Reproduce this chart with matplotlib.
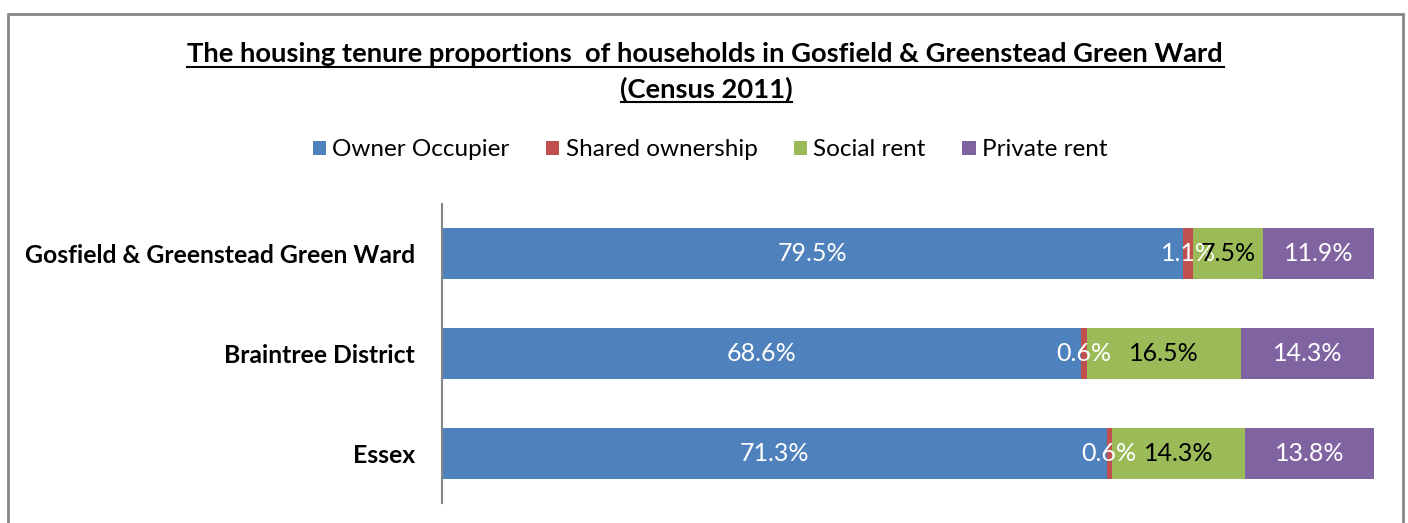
import matplotlib
matplotlib.use("Agg")
import matplotlib.pyplot as plt
from matplotlib.patches import Rectangle, Patch

plt.rcParams['font.family'] = ['Lato', 'DejaVu Sans']

categories = ["Gosfield & Greenstead Green Ward", "Braintree District", "Essex"]
series_names = ["Owner Occupier", "Shared ownership", "Social rent", "Private rent"]
owner = [79.5, 68.6, 71.3]
shared = [1.1, 0.6, 0.6]
social = [7.5, 16.5, 14.3]
private = [11.9, 14.3, 13.8]
series_values = [owner, shared, social, private]
colors = ["#4F81BD", "#C0504D", "#9BBB59", "#8064A2"]
label_colors = ["white", "white", "black", "white"]

W, H = 1408, 523
fig = plt.figure(figsize=(W / 100, H / 100), dpi=100)
ax = fig.add_axes([442 / W, (H - 503) / H, (1374 - 442) / W, (503 - 204) / H])

ypos = list(range(len(categories)))
left = [0.0] * len(categories)
for vals, col, lc in zip(series_values, colors, label_colors):
    ax.barh(ypos, vals, left=left, height=0.51, color=col, edgecolor='none')
    for y, v, l in zip(ypos, vals, left):
        ax.text(l + v / 2, y, f"{v:.1f}%", ha='center', va='center',
                color=lc, fontsize=18)
    left = [a + b for a, b in zip(left, vals)]

ax.set_xlim(0, 100)
ax.set_ylim(2.5, -0.5)
ax.set_yticks(ypos)
ax.set_yticklabels(categories, fontsize=17.8, fontweight='bold')
ax.tick_params(axis='y', length=0, pad=19.5)
ax.set_xticks([])
for s in ['top', 'right', 'bottom']:
    ax.spines[s].set_visible(False)
ax.spines['left'].set_color('#868686')
ax.spines['left'].set_linewidth(1.5)

# Title
fig.text(705 / W, 1 - 54 / H, "The housing tenure proportions  of households in Gosfield & Greenstead Green Ward",
         ha='center', va='center', fontsize=19.7, fontweight='bold')
fig.text(706 / W, 1 - 89 / H, "(Census 2011)", ha='center', va='center',
         fontsize=19.7, fontweight='bold')
# underlines
fig.add_artist(plt.Line2D([187 / W, 1224 / W], [1 - 67 / H, 1 - 67 / H], color='black', lw=1.5))
fig.add_artist(plt.Line2D([621 / W, 792 / W], [1 - 102 / H, 1 - 102 / H], color='black', lw=1.5))

handles = [Patch(facecolor=c, edgecolor='none') for c in colors]
fig.legend(handles, series_names, loc='center', bbox_to_anchor=(710 / W, 1 - 150 / H),
           ncol=4, frameon=False, fontsize=17.5, handlelength=0.55, handleheight=0.55,
           handletextpad=0.25, columnspacing=1.5)

# Outer chart border
fig.add_artist(Rectangle((8 / W, -0.05), (1403 - 8) / W, 1 - 14 / H + 0.05,
                         transform=fig.transFigure, fill=False, edgecolor='#868686',
                         lw=2, clip_on=False))

fig.savefig("out.png", dpi=100, facecolor='white')
